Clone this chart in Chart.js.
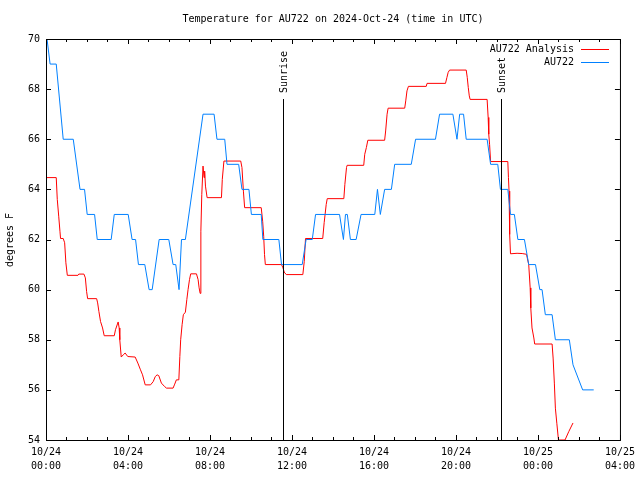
<!DOCTYPE html>
<html>
<head>
<meta charset="utf-8">
<title>Temperature for AU722</title>
<script src="https://cdn.jsdelivr.net/npm/chart.js@4.4.1/dist/chart.umd.min.js"></script>
<style>
  html, body { margin: 0; padding: 0; background: #fff; }
  canvas { display: block; }
</style>
</head>
<body>
<canvas id="tempChart" width="640" height="480"></canvas>
<script>
// hours since 10/24 00:00 UTC, temperatures in degrees F
const analysisHours = [0.02,0.50,0.55,0.62,0.68,0.71,0.84,0.91,0.97,1.04,1.56,1.60,1.85,1.92,1.98,2.03,2.47,2.52,2.58,2.66,2.76,2.84,3.33,3.39,3.52,3.57,3.60,3.67,3.77,3.86,3.99,4.35,4.48,4.61,4.71,4.84,5.10,5.23,5.33,5.42,5.50,5.63,5.79,5.88,6.20,6.28,6.36,6.48,6.53,6.57,6.64,6.70,6.80,6.87,6.93,7.00,7.06,7.34,7.42,7.47,7.52,7.55,7.56,7.60,7.66,7.71,7.74,7.78,7.86,8.56,8.60,8.68,9.50,9.56,9.63,9.69,10.50,10.57,10.62,10.66,10.70,11.49,11.56,11.62,11.72,12.53,12.60,12.66,13.50,13.57,13.67,13.72,14.53,14.58,14.66,14.69,15.50,15.55,15.63,15.70,16.52,16.57,16.64,16.69,17.50,17.55,17.61,17.68,18.55,18.59,19.49,19.56,19.62,19.69,20.50,20.55,20.60,20.65,20.69,21.52,21.57,21.60,21.64,21.69,22.53,22.56,22.59,22.61,22.63,22.66,22.98,23.23,23.44,23.55,23.62,23.65,23.71,23.80,23.84,24.69,24.74,24.80,24.85,24.92,25.00,25.32,25.50,25.71];
const analysisTemps = [64.47,64.47,63.6,62.93,62.33,62.04,62.04,61.87,61.07,60.57,60.57,60.62,60.62,60.47,59.93,59.64,59.64,59.47,59.13,58.73,58.47,58.16,58.16,58.4,58.71,58.47,58.0,57.31,57.4,57.47,57.33,57.31,57.07,56.8,56.6,56.2,56.2,56.33,56.53,56.6,56.57,56.27,56.13,56.07,56.07,56.23,56.4,56.4,57.33,58.0,58.6,59.0,59.1,59.6,60.0,60.4,60.63,60.63,60.4,60.07,59.85,60.73,62.33,63.8,64.93,64.47,64.73,64.13,63.67,63.67,64.4,65.13,65.13,64.87,63.93,63.27,63.27,62.73,62.13,61.4,61.0,61.0,60.87,60.7,60.6,60.6,61.13,62.04,62.04,62.67,63.4,63.63,63.63,64.2,64.87,64.96,64.96,65.4,65.67,65.96,65.96,66.33,67.0,67.24,67.24,67.53,67.93,68.11,68.11,68.23,68.23,68.47,68.67,68.76,68.76,68.47,68.07,67.73,67.59,67.59,66.87,66.2,65.8,65.11,65.11,64.47,63.93,63.13,62.2,61.43,61.45,61.44,61.41,61.0,60.07,59.27,58.47,58.07,57.83,57.83,57.27,56.27,55.27,54.67,54.0,54.0,54.33,54.68];

const obsHours = [0.05,0.20,0.50,0.84,1.33,1.66,1.88,2.01,2.37,2.50,3.18,3.33,4.01,4.20,4.37,4.51,4.82,5.03,5.18,5.52,5.99,6.20,6.33,6.49,6.61,6.80,7.66,8.20,8.34,8.72,8.83,9.40,9.56,9.90,10.02,10.50,10.58,11.36,11.49,12.50,12.69,12.99,13.15,14.32,14.51,14.61,14.70,14.85,15.13,15.37,16.04,16.17,16.31,16.52,16.85,17.01,17.82,18.03,19.00,19.20,19.85,20.05,20.18,20.37,20.50,21.52,21.69,22.04,22.17,22.53,22.66,22.85,23.02,23.34,23.55,23.88,24.09,24.20,24.36,24.69,24.85,25.53,25.71,26.18,26.72];
const obsTemps = [70,69,69,66,66,64,64,63,63,62,62,63,63,62,62,61,61,60,60,62,62,61,61,60,62,62,67,67,66,66,65,65,64,64,63,63,62,62,61,61,62,62,63,63,62,63,63,62,62,63,63,64,63,64,64,65,65,66,66,67,67,66,67,67,66,66,65,65,64,64,63,63,62,62,61,61,60,60,59,59,58,58,57,56,56];

const xTickLabels = [['10/24','00:00'],['10/24','04:00'],['10/24','08:00'],['10/24','12:00'],['10/24','16:00'],['10/24','20:00'],['10/25','00:00'],['10/25','04:00']];
const sunNames = ['Sunrise', 'Sunset'];
const sunHours = [11.56, 22.22];
const seriesNames = ['AU722 Analysis', 'AU722'];
const seriesColors = ['#ff0000', '#0080ff'];

const FONT = '10px "DejaVu Sans Mono", "Liberation Mono", monospace';

function toPoints(xs, ys) {
  return xs.map((h, i) => ({ x: h, y: ys[i] }));
}

// frame, inward ticks, sun lines, legend and titles (gnuplot look)
const gnuplotDecor = {
  id: 'gnuplotDecor',
  afterDraw(chart) {
    const { ctx, chartArea: a, scales: { x, y } } = chart;
    ctx.save();
    ctx.strokeStyle = '#000';
    ctx.lineWidth = 1;
    ctx.strokeRect(a.left + 0.5, a.top + 0.5, a.right - a.left, a.bottom - a.top);

    ctx.beginPath();
    for (let h = 0; h <= 28; h++) {
      const px = Math.round(x.getPixelForValue(h)) + 0.5;
      const len = h % 4 === 0 ? 5 : 3;
      ctx.moveTo(px, a.bottom); ctx.lineTo(px, a.bottom - len);
      ctx.moveTo(px, a.top); ctx.lineTo(px, a.top + len);
    }
    for (let v = 54; v <= 70; v += 2) {
      const py = Math.round(y.getPixelForValue(v)) + 0.5;
      ctx.moveTo(a.left, py); ctx.lineTo(a.left + 5, py);
      ctx.moveTo(a.right, py); ctx.lineTo(a.right - 5, py);
    }
    ctx.stroke();

    // sunrise / sunset
    ctx.font = FONT;
    ctx.fillStyle = '#000';
    sunHours.forEach((h, i) => {
      const px = Math.round(x.getPixelForValue(h)) + 0.5;
      ctx.beginPath();
      ctx.moveTo(px, 99); ctx.lineTo(px, a.bottom);
      ctx.stroke();
      ctx.save();
      ctx.translate(px + 1, 93);
      ctx.rotate(-Math.PI / 2);
      ctx.textAlign = 'left';
      ctx.textBaseline = 'middle';
      ctx.fillText(sunNames[i], 0, 0);
      ctx.restore();
    });

    // legend
    ctx.textAlign = 'right';
    ctx.textBaseline = 'middle';
    seriesNames.forEach((name, i) => {
      const ly = 49 + i * 13;
      ctx.fillStyle = '#000';
      ctx.fillText(name, 574, ly);
      ctx.strokeStyle = seriesColors[i];
      ctx.beginPath();
      ctx.moveTo(581, ly + 0.5); ctx.lineTo(609, ly + 0.5);
      ctx.stroke();
    });

    // title and y axis title
    ctx.fillStyle = '#000';
    ctx.textAlign = 'center';
    ctx.fillText('Temperature for AU722 on 2024-Oct-24 (time in UTC)', (a.left + a.right) / 2, 19);
    ctx.save();
    ctx.translate(10, 240);
    ctx.rotate(-Math.PI / 2);
    ctx.fillText('degrees F', 0, 0);
    ctx.restore();
    ctx.restore();
  }
};

new Chart(document.getElementById('tempChart'), {
  type: 'line',
  data: {
    datasets: [
      { label: seriesNames[0], data: toPoints(analysisHours, analysisTemps), borderColor: seriesColors[0], borderWidth: 1, pointRadius: 0, tension: 0, order: 2 },
      { label: seriesNames[1], data: toPoints(obsHours, obsTemps), borderColor: seriesColors[1], borderWidth: 1, pointRadius: 0, tension: 0, order: 1 }
    ]
  },
  options: {
    responsive: false,
    animation: false,
    layout: { padding: { top: 39, right: 19, left: 0, bottom: 0 } },
    plugins: { legend: { display: false }, title: { display: false }, tooltip: { enabled: false } },
    scales: {
      x: {
        type: 'linear', min: 0, max: 28,
        grid: { display: false, drawTicks: false }, border: { display: false },
        afterFit: s => { s.height = 40; },
        ticks: {
          stepSize: 4, autoSkip: false, maxRotation: 0, padding: 5, color: '#000',
          font: { family: '"DejaVu Sans Mono", monospace', size: 10, lineHeight: 1.4 },
          callback: (v) => xTickLabels[Math.round(v / 4)]
        }
      },
      y: {
        min: 54, max: 70,
        grid: { display: false, drawTicks: false }, border: { display: false },
        afterFit: s => { s.width = 46; },
        ticks: {
          stepSize: 2, padding: 6, color: '#000',
          font: { family: '"DejaVu Sans Mono", monospace', size: 10 }
        }
      }
    }
  },
  plugins: [gnuplotDecor]
});
</script>
</body>
</html>
